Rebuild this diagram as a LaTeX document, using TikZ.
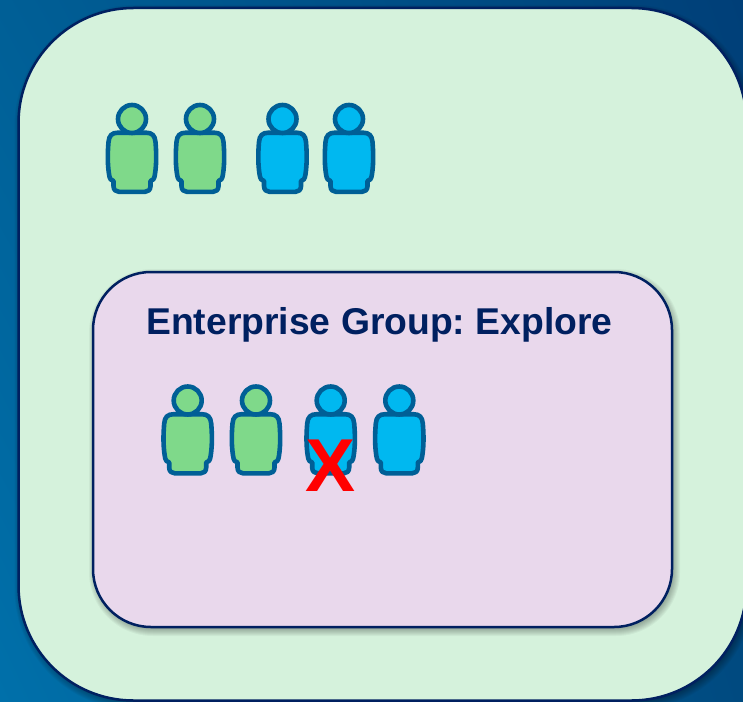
\documentclass[tikz,border=0pt]{standalone}
\usepackage{fontspec}
\usetikzlibrary{shadings}
\setmainfont{Liberation Sans}
\definecolor{navy}{HTML}{002060}
\definecolor{mint}{HTML}{D5F2DC}
\definecolor{lilac}{HTML}{E9D8EC}
\definecolor{personline}{HTML}{005F96}
\definecolor{personblue}{HTML}{00B8F0}
\definecolor{persongreen}{HTML}{7FD98A}
\definecolor{bgtl}{HTML}{005F96}
\definecolor{bgtr}{HTML}{003F78}
\definecolor{bgbl}{HTML}{0070AA}
\definecolor{bgbr}{HTML}{004A80}
\tikzset{
  panel/.style={draw=navy,line width=2.5pt},
  persondraw/.style={draw=personline,line width=4.6pt,line join=round},
  person/.pic={
    \path[persondraw,fill=#1] (-14,13.7) -- (14,13.7)
      .. controls (20,13.7) and (23,16.5) .. (23.5,23)
      .. controls (24.5,35) and (24.5,45) .. (23,55)
      .. controls (22.5,60) and (20.5,62) .. (18.5,62)
      -- (18.5,67) .. controls (18.5,71) and (16,72.8) .. (13,72.8)
      -- (-13,72.8) .. controls (-16,72.8) and (-18.5,71) .. (-18.5,67)
      -- (-18.5,62) .. controls (-20.5,62) and (-22.5,60) .. (-23,55)
      .. controls (-24.5,45) and (-24.5,35) .. (-23.5,23)
      .. controls (-23,16.5) and (-20,13.7) .. (-14,13.7) -- cycle;
    \path[persondraw,fill=#1] (0,0) circle[radius=14];
  }
}
\newcommand{\softshadow}[6]{% x0,y0,x1,y1,radius,strength
  \foreach \s in {6,5,4,3,2,1,0,-1,-2}{
    \fill[black,opacity=#6,rounded corners=#5 pt+\s pt]
      (#1-\s+2,#2-\s+3) rectangle (#3+\s+2,#4+\s+3);
  }
}
\begin{document}
\begin{tikzpicture}[x=1pt,y=-1pt]
\useasboundingbox (0,0) rectangle (743,701);
\clip (0,0) rectangle (743,701);
\shade[upper left=bgtl,upper right=bgtr,lower left=bgbl,lower right=bgbr] (0,0) rectangle (743,701);
\softshadow{18.5}{8}{746.5}{700.5}{115}{.04}
\draw[panel,fill=mint,rounded corners=115pt] (18.5,8) rectangle (746.5,700.5);
\softshadow{93}{272}{672}{627}{58}{.04}
\draw[panel,fill=lilac,rounded corners=58pt] (93,272) rectangle (672,627);
\node[anchor=base west,inner sep=0pt,text=navy,font=\fontsize{37.3}{40}\selectfont\bfseries\frenchspacing] (title) at (146,334) {Enterprise Group: Explore};
\pic at (132,119) {person=persongreen};
\pic at (200,119) {person=persongreen};
\pic at (282.5,119) {person=personblue};
\pic at (349,119) {person=personblue};
\pic at (187.7,400.5) {person=persongreen};
\pic at (256,400.5) {person=persongreen};
\pic at (330.7,400.5) {person=personblue};
\pic at (399.3,400.5) {person=personblue};
\node[anchor=base,inner sep=0pt,text=red,font=\fontsize{75}{80}\selectfont\bfseries] (cross) at (330.5,491.7) {X};
\end{tikzpicture}
\end{document}
